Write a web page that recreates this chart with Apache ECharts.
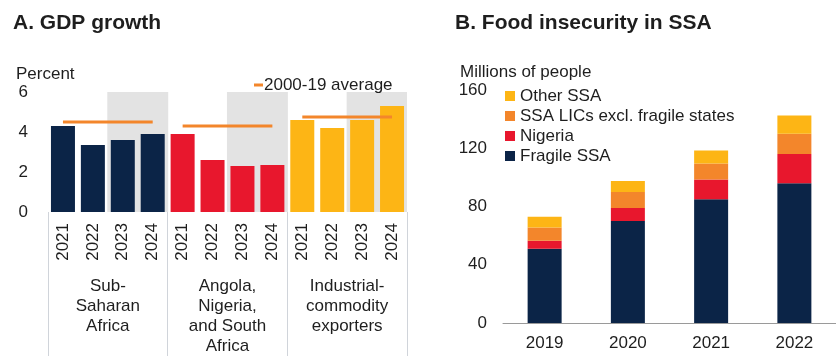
<!DOCTYPE html>
<html>
<head>
<meta charset="utf-8">
<script src="https://cdn.jsdelivr.net/npm/echarts@6/dist/echarts.min.js"></script>
<style>
  html, body { margin: 0; padding: 0; background: #fff; }
  #chart { width: 836px; height: 356px; }
</style>
</head>
<body>
<div id="chart"></div>
<script>
// panel A: GDP growth
const groups = ['Sub-\nSaharan\nAfrica', 'Angola,\nNigeria,\nand South\nAfrica', 'Industrial-\ncommodity\nexporters'];
const years = ['2021', '2022', '2023', '2024'];
const gdpSSA = [4.3, 3.35, 3.6, 3.9];
const gdpANSA = [3.9, 2.6, 2.3, 2.35];
const gdpIndus = [4.6, 4.2, 4.6, 5.3];
const avg0019 = [4.5, 4.3, 4.75];
const forecastYears = ['2023', '2024'];

// panel B: food insecurity
const foodYears = ['2019', '2020', '2021', '2022'];
const fragileSSA = [51, 70, 85, 96];
const nigeria = [5.5, 9, 13.5, 20];
const lics = [9, 11, 11, 14];
const otherSSA = [7.5, 7.5, 9, 12.5];

const groupColors = ['#0b2447', '#e8172d', '#fdb515'];
const orange = '#f3862b';
const txt = '#1e1e1e';
const fs = 17;

const gdpGroups = [gdpSSA, gdpANSA, gdpIndus];
const cats = [];
const gdpData = [];
const shadeData = [];
gdpGroups.forEach((vals, g) => {
  vals.forEach((v, i) => {
    cats.push(g + '|' + years[i]);
    gdpData.push({ value: v, itemStyle: { color: groupColors[g] } });
    shadeData.push(forecastYears.includes(years[i]) ? 6 : null);
  });
});

const avgSeries = avg0019.map((a, g) => ({
  name: '2000-19 average',
  type: 'line',
  xAxisIndex: 0, yAxisIndex: 0,
  data: cats.map((c, i) => Math.floor(i / years.length) === g ? a : '-'),
  symbol: 'none',
  lineStyle: { color: orange, width: 3 },
  itemStyle: { color: orange },
  z: 5,
  silent: true
}));

const chart = echarts.init(document.getElementById('chart'));
chart.setOption({
  animation: false,
  textStyle: { fontFamily: 'Liberation Sans, Arial, sans-serif', color: txt },
  title: [
    { text: 'A. GDP growth', left: 8, top: 8, textStyle: { fontSize: 21, fontWeight: 'bold', color: txt } },
    { text: 'B. Food insecurity in SSA', left: 450, top: 8, textStyle: { fontSize: 21, fontWeight: 'bold', color: txt } },
    { text: 'Percent', left: 11, top: 61, textStyle: { fontSize: fs, fontWeight: 'normal', color: txt } },
    { text: 'Millions of people', left: 455, top: 59, textStyle: { fontSize: fs, fontWeight: 'normal', color: txt } }
  ],
  legend: [
    {
      data: ['2000-19 average'],
      left: 249, top: 71,
      icon: 'rect', itemWidth: 9, itemHeight: 3,
      textStyle: { fontSize: fs, color: txt, lineHeight: 18, padding: [0, 0, 0, -4] },
      selectedMode: false
    },
    {
      data: ['Other SSA', 'SSA LICs excl. fragile states', 'Nigeria', 'Fragile SSA'],
      orient: 'vertical',
      left: 500, top: 81,
      icon: 'rect', itemWidth: 10, itemHeight: 10, itemGap: 0,
      textStyle: { fontSize: fs, color: txt, lineHeight: 20 },
      selectedMode: false
    }
  ],
  grid: [
    { left: 48, top: 92, width: 359, height: 121 },
    { left: 503, top: 90, width: 344, height: 233 }
  ],
  xAxis: [
    {
      gridIndex: 0, type: 'category', data: cats,
      axisLine: { show: false }, axisTick: { show: false },
      axisLabel: { rotate: 90, fontSize: fs, color: txt, margin: 11, formatter: v => v.split('|')[1] }
    },
    {
      gridIndex: 0, type: 'category', data: groups, position: 'bottom',
      axisLine: { show: false },
      axisTick: { show: true, length: 145, interval: 0, lineStyle: { color: '#d0d4da', width: 1 } },
      axisLabel: { fontSize: fs, color: txt, margin: 64, lineHeight: 20, interval: 0 }
    },
    {
      gridIndex: 0, type: 'category', data: cats, show: false
    },
    {
      gridIndex: 1, type: 'category', data: foodYears,
      axisLine: { lineStyle: { color: '#9a9a9a', width: 1 } }, axisTick: { show: false },
      axisLabel: { fontSize: fs, color: txt, margin: 12 }
    }
  ],
  yAxis: [
    {
      gridIndex: 0, type: 'value', min: 0, max: 6, interval: 2,
      splitLine: { show: false }, axisLine: { show: false }, axisTick: { show: false },
      axisLabel: { fontSize: fs, color: txt, margin: 20 }
    },
    {
      gridIndex: 1, type: 'value', min: 0, max: 160, interval: 40,
      splitLine: { show: false }, axisLine: { show: false }, axisTick: { show: false },
      axisLabel: { fontSize: fs, color: txt, margin: 16 }
    }
  ],
  series: [
    {
      type: 'bar', xAxisIndex: 2, yAxisIndex: 0, data: shadeData,
      barWidth: 31, itemStyle: { color: '#e3e3e3' }, silent: true, z: 1
    },
    {
      type: 'bar', xAxisIndex: 0, yAxisIndex: 0, data: gdpData,
      barWidth: 24, z: 3
    },
    ...avgSeries,
    { name: 'Fragile SSA', type: 'bar', stack: 'food', xAxisIndex: 3, yAxisIndex: 1, data: fragileSSA, barWidth: 34, itemStyle: { color: '#0b2447' } },
    { name: 'Nigeria', type: 'bar', stack: 'food', xAxisIndex: 3, yAxisIndex: 1, data: nigeria, barWidth: 34, itemStyle: { color: '#e8172d' } },
    { name: 'SSA LICs excl. fragile states', type: 'bar', stack: 'food', xAxisIndex: 3, yAxisIndex: 1, data: lics, barWidth: 34, itemStyle: { color: '#f3862b' } },
    { name: 'Other SSA', type: 'bar', stack: 'food', xAxisIndex: 3, yAxisIndex: 1, data: otherSSA, barWidth: 34, itemStyle: { color: '#fdb515' } }
  ]
});
</script>
</body>
</html>
